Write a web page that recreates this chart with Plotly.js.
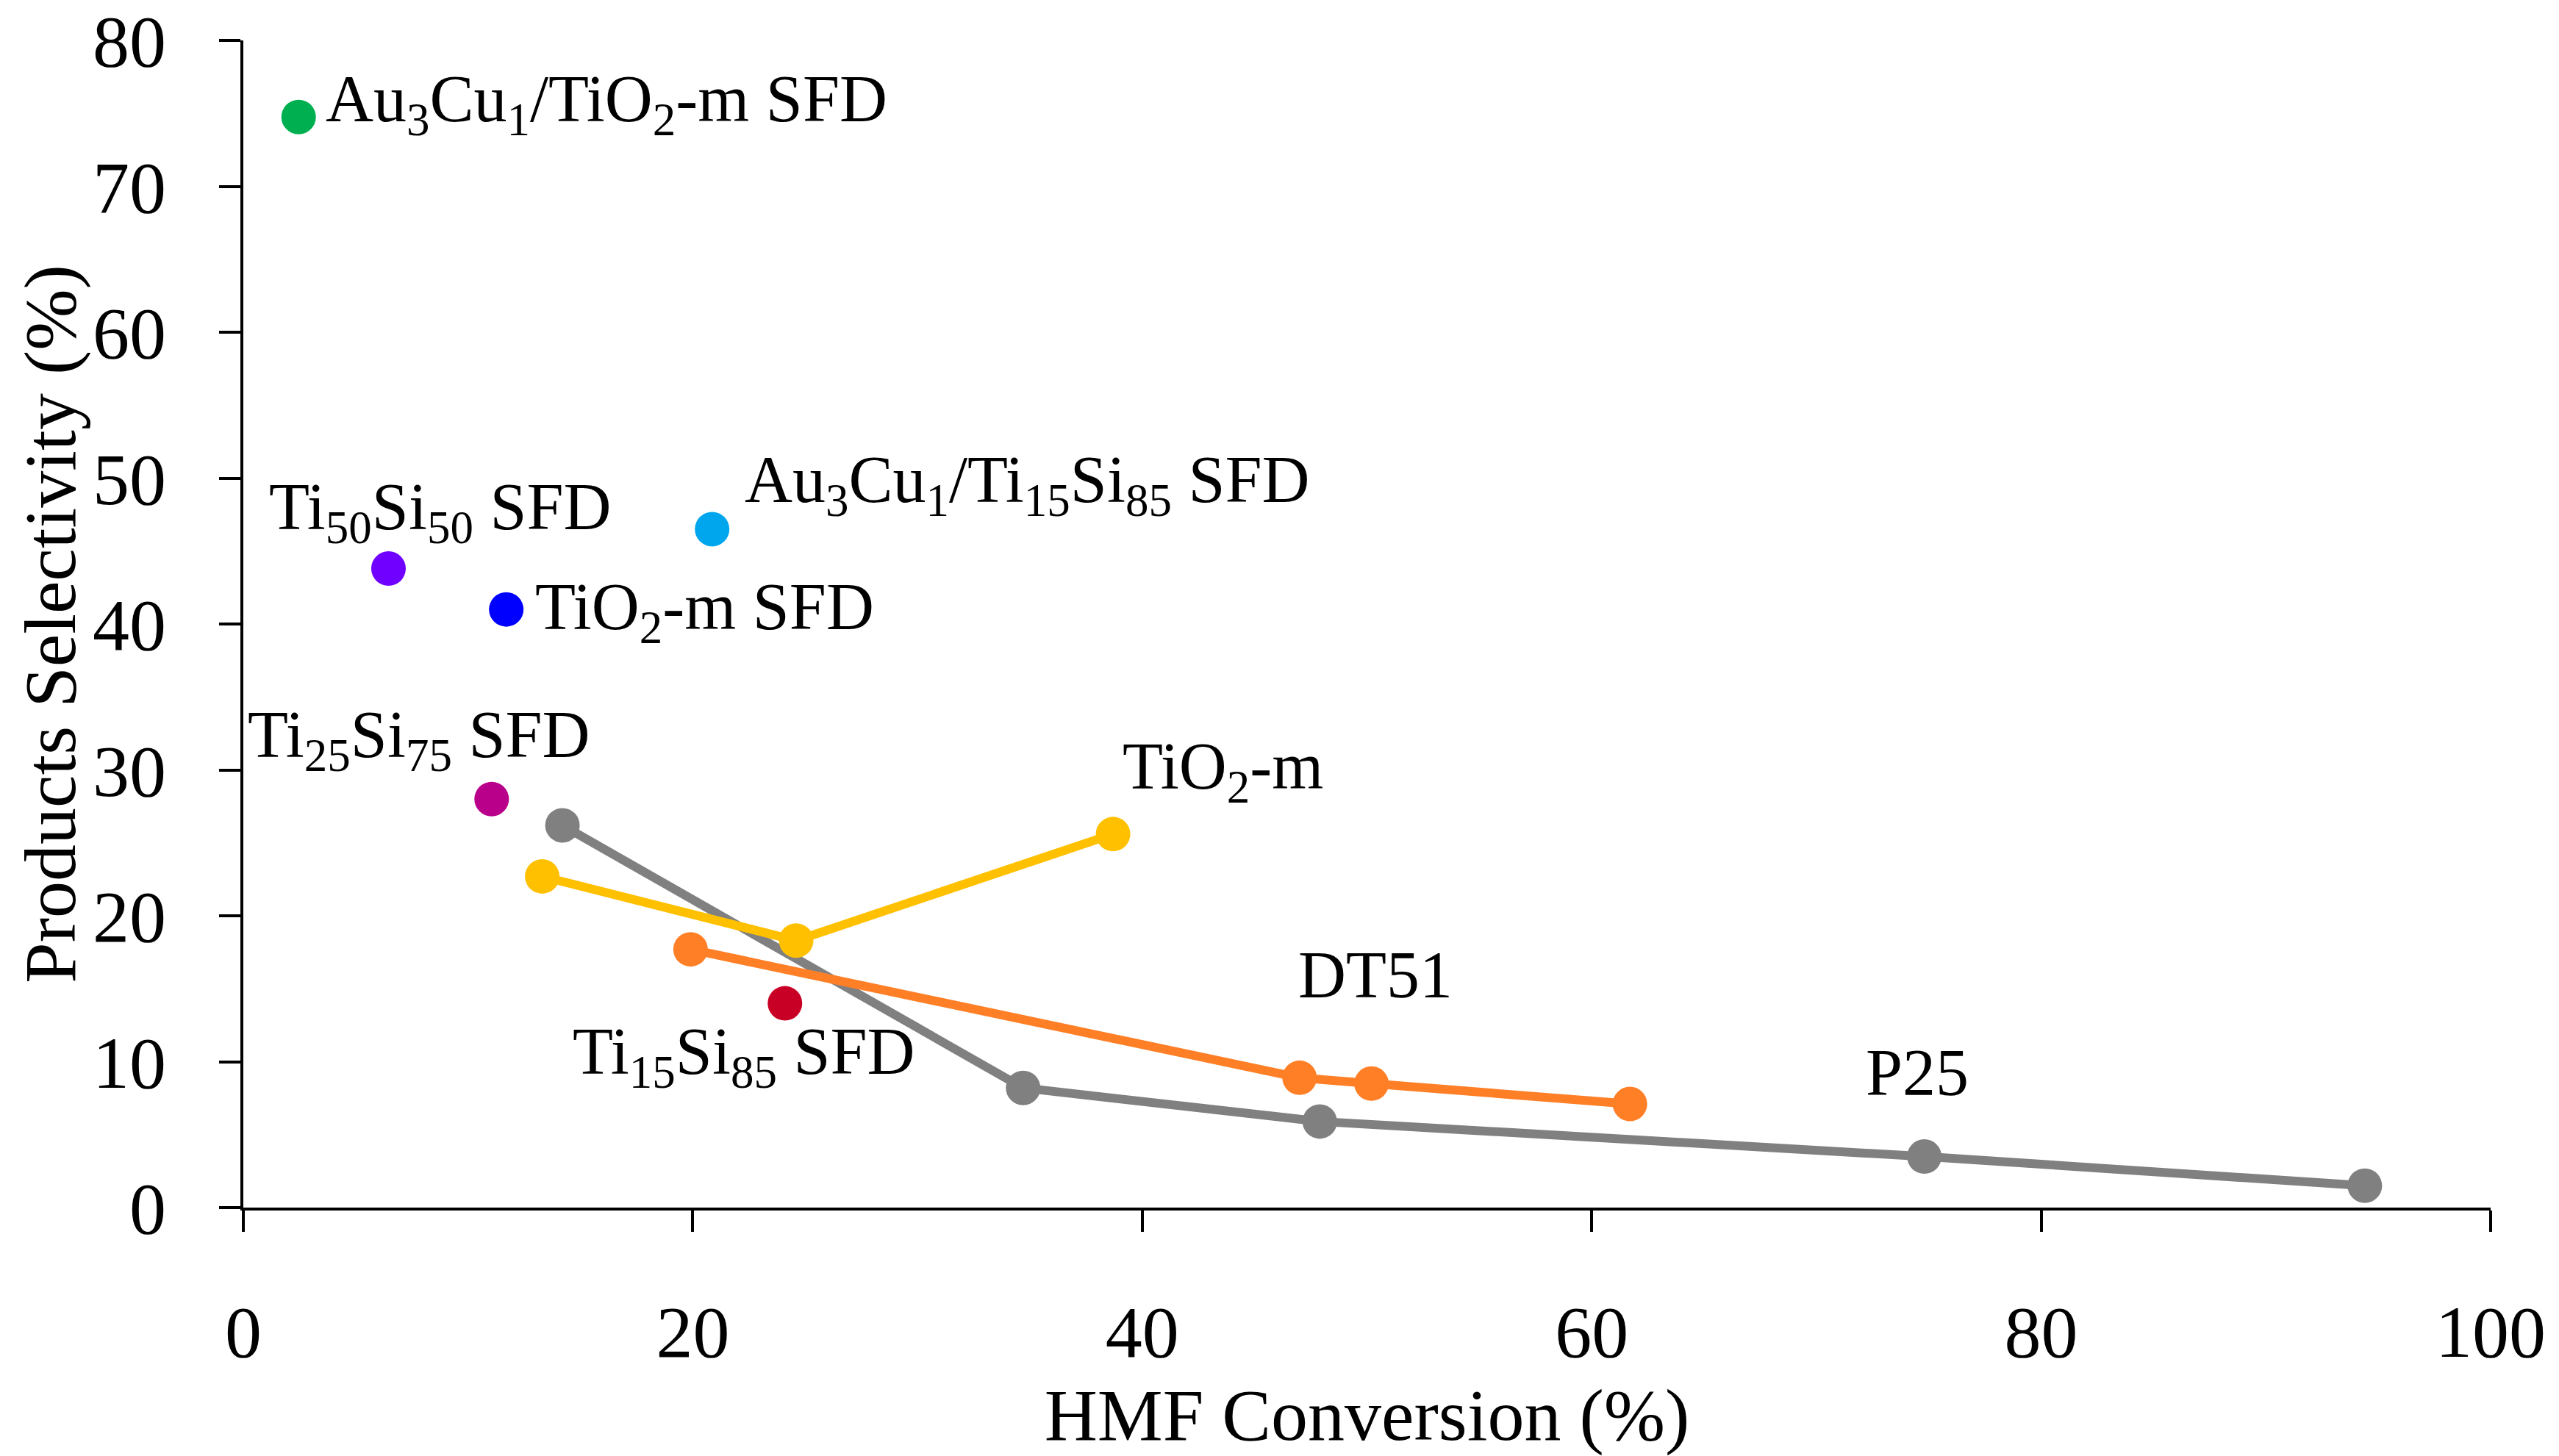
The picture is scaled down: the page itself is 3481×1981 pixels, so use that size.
<!DOCTYPE html>
<html>
<head>
<meta charset="utf-8">
<script src="https://cdn.plot.ly/plotly-3.0.1.min.js"></script>
<style>html,body{margin:0;padding:0;background:#fff;}#chart{width:3481px;height:1981px;}</style>
</head>
<body>
<div id="chart"></div>
<script>
// ---- data ----
const p25X = [14.2, 34.7, 47.9, 74.8, 94.4];
const p25Y = [26.2, 8.2, 5.9, 3.5, 1.5];
const tio2mX = [13.3, 24.6, 38.7];
const tio2mY = [22.7, 18.3, 25.6];
const dt51X = [19.9, 47.0, 50.2, 61.7];
const dt51Y = [17.7, 8.9, 8.5, 7.1];
const sfdNames = ['Au<sub>3</sub>Cu<sub>1</sub>/TiO<sub>2</sub>-m SFD', 'Ti<sub>50</sub>Si<sub>50</sub> SFD', 'Au<sub>3</sub>Cu<sub>1</sub>/Ti<sub>15</sub>Si<sub>85</sub> SFD', 'TiO<sub>2</sub>-m SFD', 'Ti<sub>25</sub>Si<sub>75</sub> SFD', 'Ti<sub>15</sub>Si<sub>85</sub> SFD'];
const sfdX = [2.46, 6.46, 20.86, 11.7, 11.05, 24.1];
const sfdY = [74.75, 43.8, 46.5, 41.0, 28.0, 14.0];
const xTicks = [0, 20, 40, 60, 80, 100];
const yTicks = [0, 10, 20, 30, 40, 50, 60, 70, 80];
const xTitle = 'HMF Conversion (%)';
const yTitle = 'Products Selectivity (%)';

// ---- styles ----
const FONT = 'Liberation Serif, Times New Roman, serif';
const MS = 47, LW = 12;
const sfdColors = ['#00B050', '#7000FF', '#00A6ED', '#0000FF', '#B8008A', '#C90026'];
// label offsets (pixels) relative to each point
const sfdShift = [[36, 18], [-163, 77], [43, 60], [38, -3], [-333, 81], [-290, -72]];

const traces = [
  {x: p25X, y: p25Y, mode: 'lines+markers', line: {color: '#808080', width: LW}, marker: {color: '#808080', size: MS}},
  {x: tio2mX, y: tio2mY, mode: 'lines+markers', line: {color: '#FFC000', width: LW}, marker: {color: '#FFC000', size: MS}},
  {x: dt51X, y: dt51Y, mode: 'lines+markers', line: {color: '#FF7F27', width: LW}, marker: {color: '#FF7F27', size: MS}}
];
sfdX.forEach((v, i) => {
  traces.push({x: [v], y: [sfdY[i]], mode: 'markers', marker: {color: sfdColors[i], size: MS}});
});

const annFont = {family: FONT, size: 90, color: '#000'};
const annotations = sfdNames.map((t, i) => ({
  x: sfdX[i], y: sfdY[i], text: t, showarrow: false, xanchor: 'left', yanchor: 'middle',
  xshift: sfdShift[i][0], yshift: sfdShift[i][1], font: annFont, borderpad: 0
}));
annotations.push({x: tio2mX[2], y: tio2mY[2], text: 'TiO<sub>2</sub>-m', showarrow: false, xanchor: 'left', yanchor: 'middle', xshift: 12, yshift: 85, font: annFont, borderpad: 0});
annotations.push({x: dt51X[2], y: dt51Y[2], text: 'DT51', showarrow: false, xanchor: 'left', yanchor: 'middle', xshift: -101, yshift: 148, font: annFont, borderpad: 0});
annotations.push({x: p25X[3], y: p25Y[3], text: 'P25', showarrow: false, xanchor: 'left', yanchor: 'middle', xshift: -81, yshift: 114, font: annFont, borderpad: 0});

const axisCommon = {
  showgrid: false, zeroline: false, showline: true, linecolor: '#000', linewidth: 4,
  ticks: 'outside', ticklen: 29, tickwidth: 4, tickcolor: '#000',
  tickfont: {family: FONT, size: 100, color: '#000'}, fixedrange: true
};

const layout = {
  width: 3481, height: 1981,
  margin: {l: 331, r: 93, t: 55, b: 338},
  paper_bgcolor: '#fff', plot_bgcolor: '#fff',
  showlegend: false,
  font: {family: FONT, color: '#000'},
  xaxis: Object.assign({}, axisCommon, {
    range: [0, 100], tickvals: xTicks, ticktext: xTicks.map(String), ticklabelstandoff: 50,
    automargin: true,
    title: {text: xTitle, font: {family: FONT, size: 100, color: '#000'}, standoff: 30}
  }),
  yaxis: Object.assign({}, axisCommon, {
    range: [0, 80], tickvals: yTicks, ticktext: yTicks.map(String), ticklabelstandoff: 52,
    automargin: false,
    title: {text: yTitle, font: {family: FONT, size: 100, color: '#000'}}
  }),
  annotations: annotations
};

Plotly.newPlot('chart', traces, layout, {displayModeBar: false, staticPlot: true});
</script>
</body>
</html>
